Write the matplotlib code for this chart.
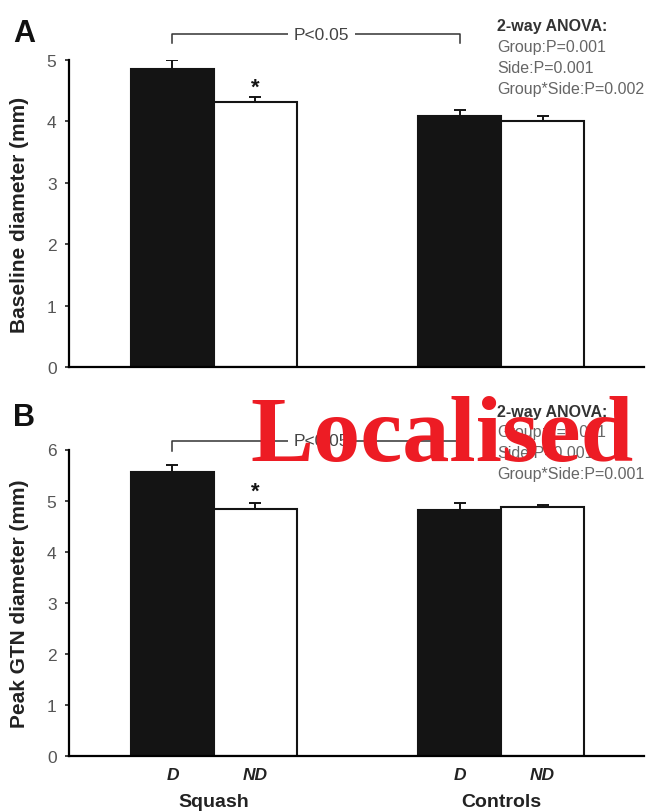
import numpy as np
import matplotlib
matplotlib.use('Agg')
import matplotlib.pyplot as plt
from matplotlib.transforms import blended_transform_factory

plt.rcParams.update({
    'font.family': ['Liberation Sans', 'DejaVu Sans'],
    'font.size': 11,
    'axes.linewidth': 1.6,
})

# data
groups = ['Squash', 'Controls']
sides = ['D', 'ND']
baseline_mean = [[4.86, 4.31], [4.08, 4.01]]
baseline_err = [[0.14, 0.09], [0.10, 0.08]]
peak_mean = [[5.56, 4.83], [4.82, 4.87]]
peak_err = [[0.14, 0.12], [0.14, 0.04]]
anova_a = ['2-way ANOVA:', 'Group:P=0.001', 'Side:P=0.001', 'Group*Side:P=0.002']
anova_b = ['2-way ANOVA:', 'Group:P=0.001', 'Side:P=0.001', 'Group*Side:P=0.001']

W, H = 646, 812
fig = plt.figure(figsize=(W / 100, H / 100), dpi=100)

bar_w = 0.289
gx = np.arange(len(groups))


def draw_panel(rect, means, errs, ymax, ylabel, bracket_y, star_y, show_x):
    ax = fig.add_axes(rect)
    means = np.array(means)
    errs = np.array(errs)
    for k, (fc, off) in enumerate([('#141414', -bar_w / 2), ('white', bar_w / 2)]):
        x = gx + off
        ax.bar(x, means[:, k], width=bar_w, color=fc, edgecolor='#141414', linewidth=1.5, zorder=2)
        ax.errorbar(x, means[:, k], yerr=[np.zeros(len(x)), errs[:, k]], fmt='none',
                    ecolor='#141414', elinewidth=1.4, capsize=4, capthick=1.4, zorder=3)
    ax.set_xlim(-0.505, 1.498)
    ax.set_ylim(0, ymax)
    ax.set_yticks(range(ymax + 1))
    ax.tick_params(axis='y', direction='out', length=3, width=1.2, colors='#222',
                   labelcolor='#555', labelsize=12.5, pad=6)
    for s in ['top', 'right']:
        ax.spines[s].set_visible(False)
    ax.set_ylabel(ylabel, fontsize=15, fontweight='bold', color='#222')
    ax.yaxis.set_label_coords(-0.07, 0.5)
    if show_x:
        xt = np.concatenate([gx - bar_w / 2, gx + bar_w / 2])
        ax.set_xticks(xt)
        ax.set_xticklabels(['D', 'D', 'ND', 'ND'], fontweight='bold', fontstyle='italic',
                           fontsize=12.5, color='#222')
        ax.tick_params(axis='x', length=0, pad=8)
        tr = blended_transform_factory(ax.transData, ax.transAxes)
        for g, name in zip(gx, groups):
            ax.text(g, -0.147, name, transform=tr, ha='center', va='center',
                    fontsize=14, fontweight='bold', color='#222')
    else:
        ax.set_xticks([])
    # bracket between D bars
    x0, x1 = gx[0] - bar_w / 2, gx[1] - bar_w / 2
    top, bot = bracket_y
    ax.plot([x0, x0, x1, x1], [bot, top, top, bot], color='#333', lw=1.1, clip_on=False, zorder=1)
    ax.text((x0 + x1) / 2 + 0.02, top, 'P<0.05', ha='center', va='center', fontsize=12.5, color='#444',
            bbox=dict(facecolor='white', edgecolor='none', pad=4), clip_on=False, zorder=2)
    ax.text(gx[0] + bar_w / 2, star_y, '*', ha='center', va='center', fontsize=16,
            fontweight='bold', color='#141414')
    return ax


axA = draw_panel([69 / W, 1 - 368 / H, 575 / W, 307 / H], baseline_mean, baseline_err, 5,
                 'Baseline diameter (mm)', (5.42, 5.27), 4.56, False)
axB = draw_panel([69 / W, 1 - 757 / H, 575 / W, 306.5 / H], peak_mean, peak_err, 6,
                 'Peak GTN diameter (mm)', (6.17, 5.98), 5.18, True)

# ANOVA notes
for lines, y0 in [(anova_a, 27), (anova_b, 412)]:
    for i, t in enumerate(lines):
        fig.text(497 / W, 1 - (y0 + 20.7 * i) / H, t, ha='left', va='center', fontsize=11.5,
                 fontweight='bold' if i == 0 else 'normal', color='#333' if i == 0 else '#666')

fig.text(13 / W, 1 - 42 / H, 'A', fontsize=22, fontweight='bold', color='#111')
fig.text(13 / W, 1 - 426 / H, 'B', fontsize=22, fontweight='bold', color='#111')

# red overlay word
fig.text(250 / W, 1 - 461 / H, 'Localised', ha='left', va='baseline', fontsize=68,
         fontweight='bold', family=['Liberation Serif', 'DejaVu Serif'], color='#ED1C24', zorder=10)

fig.savefig('out.png', dpi=100)
